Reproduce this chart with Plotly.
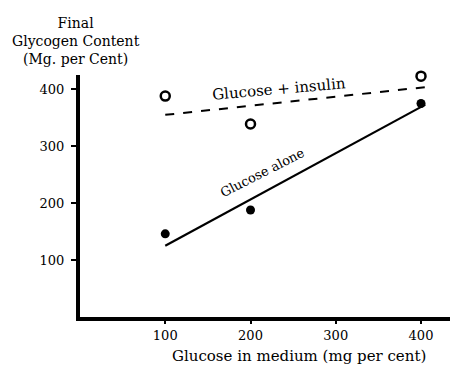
import plotly.graph_objects as go

glucose = [100, 200, 400]
insulin_vals = [388, 339, 423]
alone_vals = [146, 188, 375]
insulin_fit_x = [100, 407]
insulin_fit_y = [355, 404]
alone_fit_x = [100, 405]
alone_fit_y = [125, 373]
x_ticks = [100, 200, 300, 400]
y_ticks = [100, 200, 300, 400]

FONT = "DejaVu Serif"

fig = go.Figure()
fig.add_trace(go.Scatter(x=insulin_fit_x, y=insulin_fit_y, mode="lines", cliponaxis=False,
                         line=dict(color="black", width=2, dash="dash"), showlegend=False))
fig.add_trace(go.Scatter(x=alone_fit_x, y=alone_fit_y, mode="lines", cliponaxis=False,
                         line=dict(color="black", width=2.2), showlegend=False))
fig.add_trace(go.Scatter(x=glucose, y=insulin_vals, mode="markers", cliponaxis=False,
                         marker=dict(symbol="circle-open", size=9, color="black",
                                     line=dict(width=2.5, color="black")), showlegend=False))
fig.add_trace(go.Scatter(x=glucose, y=alone_vals, mode="markers", cliponaxis=False,
                         marker=dict(symbol="circle", size=9, color="black"), showlegend=False))

fig.add_annotation(x=234, y=400, text="Glucose + insulin", showarrow=False,
                   textangle=-5, font=dict(family=FONT, size=15, color="black"))
fig.add_annotation(x=214, y=254, text="Glucose alone", showarrow=False,
                   textangle=-27, font=dict(family=FONT, size=13, color="black"))
fig.add_annotation(xref="paper", yref="paper", x=-0.01, y=1.255, xanchor="center", yanchor="top",
                   text="Final<br>Glycogen Content<br>(Mg. per Cent)", showarrow=False, align="center",
                   font=dict(family=FONT, size=14, color="black"))
fig.add_annotation(xref="x", yref="paper", x=257, y=-0.115, xanchor="center", yanchor="top",
                   text="Glucose in medium (mg per cent)", showarrow=False,
                   font=dict(family=FONT, size=15, color="black"))

fig.update_layout(
    width=450, height=367,
    margin=dict(l=80, r=0, t=75, b=50),
    paper_bgcolor="white", plot_bgcolor="white",
    font=dict(family=FONT, size=13, color="black"),
    xaxis=dict(range=[0, 434], tickvals=x_ticks, ticktext=[str(v) for v in x_ticks],
               showgrid=False, zeroline=False, showline=True, linewidth=4, linecolor="black",
               ticks="outside", ticklen=3, tickwidth=1.5, tickcolor="black"),
    yaxis=dict(range=[0, 425], tickvals=y_ticks, ticktext=[str(v) for v in y_ticks],
               showgrid=False, zeroline=False, showline=True, linewidth=4, linecolor="black",
               ticks="outside", ticklen=5, tickwidth=1.5, tickcolor="black", ticklabelstandoff=4),
)
fig.write_html("out.html")
